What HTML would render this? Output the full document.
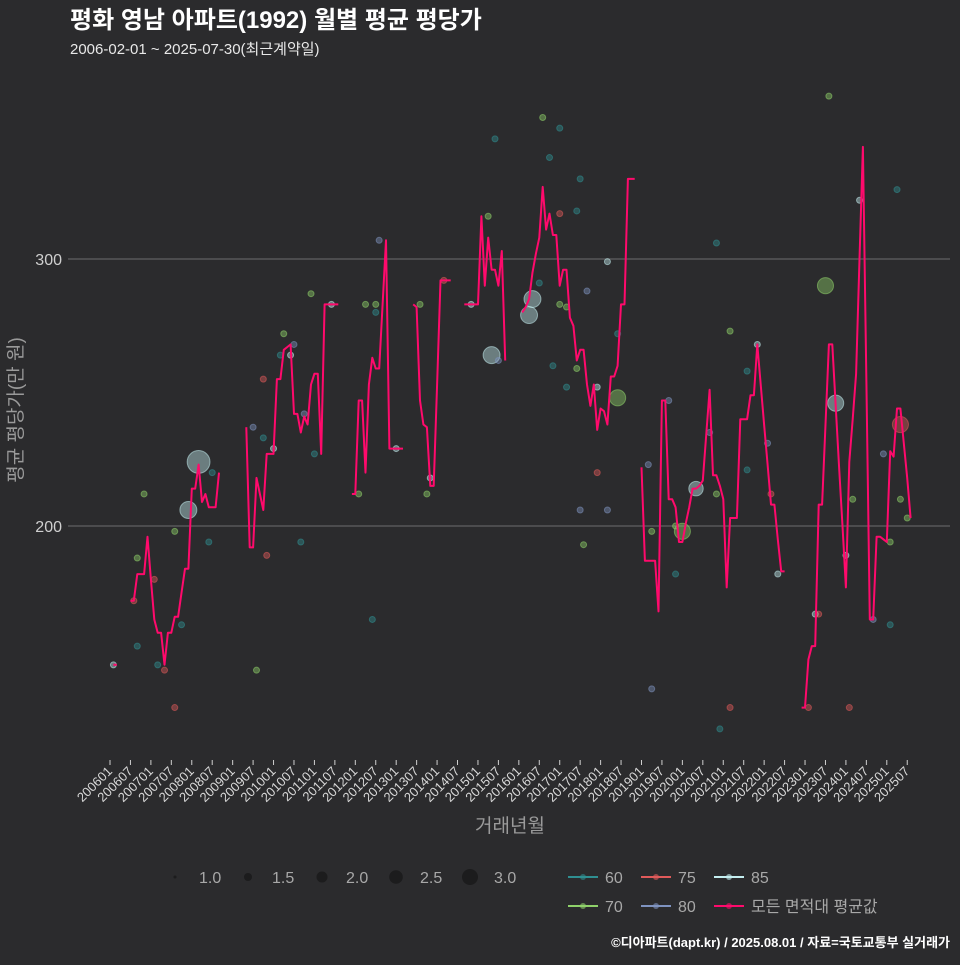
<!DOCTYPE html>
<html><head><meta charset="utf-8">
<style>
html,body{margin:0;padding:0;background:#2b2b2d;}
body{width:960px;height:960px;overflow:hidden;font-family:"Liberation Sans","Noto Sans CJK KR",sans-serif;}
svg text{font-family:"Liberation Sans","Noto Sans CJK KR",sans-serif;}
</style></head>
<body>
<svg id="chart" width="960" height="960" viewBox="0 0 960 960" xmlns="http://www.w3.org/2000/svg">
<rect x="0" y="0" width="960" height="960" fill="#2b2b2d"/>
<text x="70" y="28" fill="#ffffff" font-size="24" font-weight="bold">평화 영남 아파트(1992) 월별 평균 평당가</text>
<text x="70" y="54" fill="#e8e8e8" font-size="15">2006-02-01 ~ 2025-07-30(최근계약일)</text>
<g id="grid"></g>
<g id="dots"></g>
<g id="line"></g>
<g id="xaxis"></g>
<g id="yaxis"></g>
<text x="510" y="832" fill="#9a9a9a" font-size="19" text-anchor="middle">거래년월</text>
<text transform="translate(22,410) rotate(-90)" fill="#9a9a9a" font-size="19" text-anchor="middle">평균 평당가(만 원)</text>
<g id="legend"></g>
<text x="950" y="947" fill="#ffffff" font-size="13" font-weight="bold" text-anchor="end">©디아파트(dapt.kr) / 2025.08.01 / 자료=국토교통부 실거래가</text>
</svg>
<script>
// month index from 2006-01
const xTickLabels = ["200601","200607","200701","200707","200801","200807","200901","200907","201001","201007","201101","201107","201201","201207","201301","201307","201401","201407","201501","201507","201601","201607","201701","201707","201801","201807","201901","201907","202001","202007","202101","202107","202201","202207","202301","202307","202401","202407","202501","202507"];
const yTicks = [200, 300];
const lineMonth = [1,2,null,6,7,8,9,10,11,12,13,14,15,16,17,18,19,20,21,22,23,24,25,26,27,28,29,30,31,32,null,
40,41,42,43,44,45,46,47,48,49,50,51,52,53,54,55,56,57,58,59,60,61,62,63,64,65,66,67,null,
71,72,73,74,75,76,77,78,79,80,81,82,83,84,85,86,null,
89,90,91,92,93,94,95,96,97,98,99,100,null,
104,105,106,107,108,109,110,111,112,113,114,115,116,null,
121,122,123,124,125,126,127,128,129,130,131,132,133,134,135,136,137,138,139,140,141,142,143,144,145,146,147,148,149,150,151,152,153,154,null,
156,157,158,159,160,161,162,163,164,165,166,167,168,169,170,171,172,173,174,175,176,177,178,179,180,181,182,183,184,185,186,187,188,189,190,191,192,193,194,195,196,197,198,null,
203,204,205,206,207,208,209,210,211,212,213,214,215,216,217,218,219,220,221,222,223,224,225,226,227,228,229,230,231,232,233,234,235];
const lineValue = [148,148,null,172,172,182,182,182,196,180,165,160,160,148,160,160,166,166,175,184,184,214,214,223,209,212,207,207,207,220,null,
237,192,192,218,212,206,227,227,227,255,255,266,267,268,242,242,235,241,238,253,257,257,227,283,283,283,283,283,null,
212,212,247,247,220,253,263,259,259,283,307,229,229,229,229,229,null,
283,282,247,238,237,215,215,253,292,292,292,292,null,
283,283,283,283,283,316,290,308,296,296,290,303,262,null,
280,282,285,295,302,308,327,311,317,309,309,290,296,296,278,275,262,266,266,253,245,253,236,244,243,238,256,256,260,283,283,330,330,330,null,
222,187,187,187,187,168,247,247,210,210,207,194,194,201,207,214,214,215,217,234,251,219,219,215,210,177,203,203,203,240,240,240,249,249,268,253,238,223,208,208,195,183,183,null,
132,132,150,155,155,208,208,238,268,268,245,222,200,177,224,240,257,300,342,254,165,165,196,196,195,194,228,226,244,244,231,218,203];
// scatter data: month index, value, area group, size
const dotMonth = [1,7,8,8,10,13,14,16,19,19,21,23,26,30,29,43,46,42,45,48,56,60,57,45,51,50,53,54,59,65,73,75,78,78,79,84,91,93,94,98,77,106,111,113,112,114,124,123,126,127,132,129,138,132,137,146,140,132,134,149,130,137,134,143,149,138,139,146,143,178,182,190,187,164,176,193,158,187,172,178,194,168,166,159,166,196,159,179,182,205,217,207,208,210,213,220,231,218,216,227,232,234,229,224,229,232,211];
const dotValue = [148,172,188,155,212,180,148,146,132,198,163,206,224,220,194,146,189,237,233,229,194,227,242,255,272,264,264,268,287,283,212,283,283,280,307,229,283,212,218,292,165,283,316,345,264,262,285,279,291,353,349,338,330,317,318,299,288,283,282,272,260,259,252,252,248,206,193,206,220,306,273,268,258,247,235,231,223,221,214,212,212,198,200,198,182,182,139,124,132,132,132,167,167,290,246,322,326,210,189,227,210,203,194,165,163,238,361];
const dotArea = [85,75,70,60,70,75,60,75,75,70,60,85,85,60,60,70,75,80,60,85,60,60,80,75,70,60,85,80,70,85,70,70,70,60,80,85,70,70,85,75,60,85,70,60,85,80,85,85,60,70,60,60,60,75,60,85,80,70,70,60,60,70,60,85,70,80,70,80,75,60,70,85,60,80,80,80,80,60,85,70,75,70,70,70,60,85,80,60,75,75,75,85,75,70,85,85,60,70,85,80,70,70,70,80,60,75,70];
const dotSize = [1,1,1,1,1,1,1,1,1,1,1,2.3,3,1,1,1,1,1,1,1,1,1,1,1,1,1,1,1,1,1,1,1,1,1,1,1,1,1,1,1,1,1,1,1,2.3,1,2.3,2.3,1,1,1,1,1,1,1,1,1,1,1,1,1,1,1,1,2.2,1,1,1,1,1,1,1,1,1,1,1,1,1,2,1,1,2.2,1,1,1,1,1,1,1,1,1,1,1,2.2,2.2,1,1,1,1,1,1,1,1,1,1,2.2,1];
const areaColor = {60:"#2f8f91",70:"#8fd16a",75:"#e05a5a",80:"#7f93c0",85:"#c4eef0"};

const NS="http://www.w3.org/2000/svg";
const X0=110, PXM=3.407, PLOT_L=68, PLOT_R=950;
function xs(m){return X0+m*PXM;}
function ys(v){return 259+(300-v)*2.67;}
function mk(tag,attrs,parent){const e=document.createElementNS(NS,tag);for(const k in attrs)e.setAttribute(k,attrs[k]);parent.appendChild(e);return e;}

const grid=document.getElementById('grid'), yaxis=document.getElementById('yaxis'), xaxis=document.getElementById('xaxis');
yTicks.forEach(v=>{
  const l=mk('line',{x1:PLOT_L,x2:PLOT_R,y1:ys(v),y2:ys(v),stroke:'#6e6e6e','stroke-width':1},grid);
  
  
  const t=mk('text',{x:62,y:ys(v)+6,fill:'#cfcfcf','font-size':16,'text-anchor':'end'},yaxis);
  t.textContent=v;
  
  
});
xTickLabels.forEach((lab,i)=>{
  const x=xs(i*6);
  const tk=mk('line',{x1:x,x2:x,y1:760,y2:765,stroke:'#cfcfcf','stroke-width':1},xaxis);
  
  
  const t=mk('text',{x:x+3,y:772,fill:'#d8d8d8','font-size':13,'text-anchor':'end',transform:`rotate(-45 ${x+3} 772)`},xaxis);
  t.textContent=lab;
  
  
});

const dots=document.getElementById('dots');
dotMonth.forEach((m,i)=>{
  const r=3+(dotSize[i]-1)*4.2;
  const c=mk('circle',{cx:xs(m),cy:ys(dotValue[i]),r:r,fill:areaColor[dotArea[i]],'fill-opacity':0.42,stroke:areaColor[dotArea[i]],'stroke-opacity':0.55,'stroke-width':1},dots);
  
  
});

const lineG=document.getElementById('line');
let seg=[];
function flush(){
  if(seg.length){
    const p=mk('polyline',{points:seg.join(' '),fill:'none',stroke:'#ff0a6c','stroke-width':2,'stroke-linejoin':'round'},lineG);
    
    
  }
  seg=[];
}
lineMonth.forEach((m,i)=>{
  if(m===null||lineValue[i]===null){flush();return;}
  seg.push(xs(m).toFixed(1)+','+ys(lineValue[i]).toFixed(1));
});
flush();

// legend
const lg=document.getElementById('legend');
const sizeLab=["1.0","1.5","2.0","2.5","3.0"], sizeX=[175,248,322,396,470], sizeR=[1.5,4,5.5,6.8,8];
sizeLab.forEach((s,i)=>{
  const c=mk('circle',{cx:sizeX[i],cy:877,r:sizeR[i],fill:'#1c1c1d'},lg);
  
  
  const t=mk('text',{x:sizeX[i]+24,y:883,fill:'#a8a8a8','font-size':16},lg);
  t.textContent=s;
  
  
});
const colLab=["60","75","85","70","80","모든 면적대 평균값"], colC=["#2f8f91","#e05a5a","#c4eef0","#8fd16a","#7f93c0","#ff0a6c"];
const colX=[568,641,714,568,641,714], colY=[877,877,877,906,906,906];
colLab.forEach((s,i)=>{
  const l=mk('line',{x1:colX[i],x2:colX[i]+30,y1:colY[i],y2:colY[i],stroke:colC[i],'stroke-width':2},lg);
  
  
  const c=mk('circle',{cx:colX[i]+15,cy:colY[i],r:3,fill:colC[i],'fill-opacity':0.6},lg);
  
  
  const t=mk('text',{x:colX[i]+37,y:colY[i]+6,fill:'#a8a8a8','font-size':16},lg);
  t.textContent=s;
  
  
});
</script>
</body></html>
